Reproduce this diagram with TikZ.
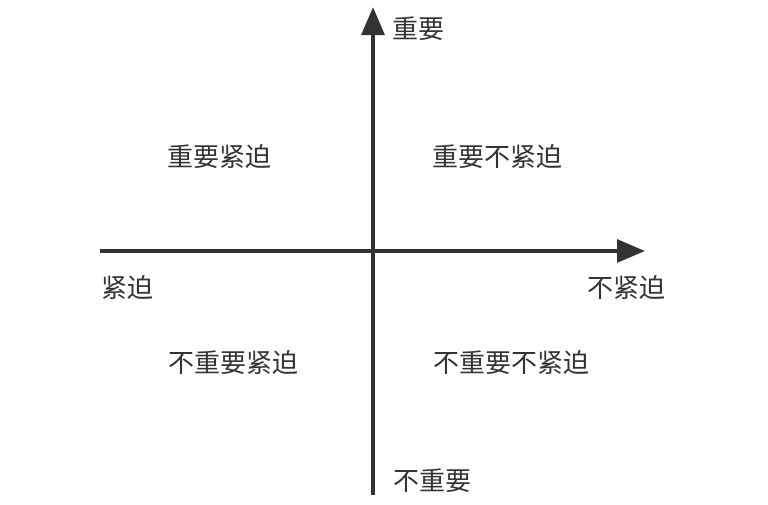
\documentclass[tikz,border=0pt]{standalone}
\usepackage{fontspec}
\newfontfamily\cjk{Noto Sans CJK SC}
\usetikzlibrary{arrows.meta}
\definecolor{ink}{HTML}{333333}
\tikzset{lab/.style={font=\cjk\fontsize{19.5}{19.5}\selectfont,text=ink,inner sep=0pt}}
\begin{document}
\begin{tikzpicture}[x=0.75pt,y=-0.75pt]
 \useasboundingbox (0,0) rectangle (768,504);
 \coordinate (XS) at (100,251); %x軸最小
 \coordinate (XL) at (645,251); %x軸最大
 \coordinate (YS) at (373,495); %y軸最小
 \coordinate (YL) at (373,7); %y軸最大
 \draw[ink,line width=3pt,-{Triangle[length=21pt,width=17pt]}] (XS)--(XL); %x軸
 \draw[ink,line width=3pt,-{Triangle[length=21pt,width=17pt]}] (YS)--(YL); %y軸
 \node[lab] (top) at (418,29) {重要};
 \node[lab] (bottom) at (432,481) {不重要};
 \node[lab] (left) at (127,288) {紧迫};
 \node[lab] (right) at (626,288) {不紧迫};
 \node[lab] (q1) at (219,157) {重要紧迫};
 \node[lab] (q2) at (497,157) {重要不紧迫};
 \node[lab] (q3) at (233,363) {不重要紧迫};
 \node[lab] (q4) at (511,363) {不重要不紧迫};
\end{tikzpicture}
\end{document}
